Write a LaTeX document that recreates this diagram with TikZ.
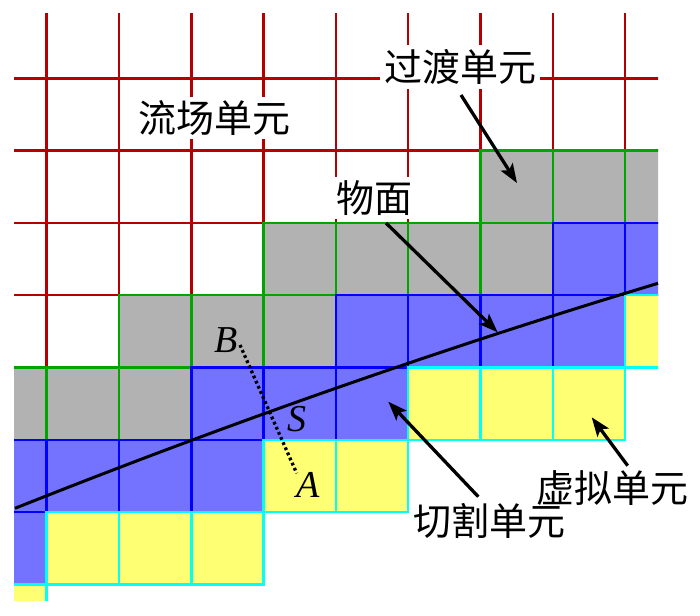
\documentclass[tikz,border=0pt]{standalone}
\usepackage{fontspec}
\setmainfont{Liberation Serif}
\newfontfamily\cjk{Noto Sans CJK SC}
\usetikzlibrary{arrows.meta}
\definecolor{gridred}{RGB}{180,0,0}
\definecolor{gridgreen}{RGB}{0,165,0}
\definecolor{gridblue}{RGB}{0,0,255}
\definecolor{gridcyan}{RGB}{0,255,255}
\definecolor{fillgray}{RGB}{178,178,178}
\definecolor{fillblue}{RGB}{115,115,255}
\definecolor{fillyellow}{RGB}{255,255,115}
\tikzset{
  redline/.style={draw=gridred, line width=2.5pt},
  graycell/.style={fill=fillgray, draw=gridgreen, line width=2.5pt},
  bluecell/.style={fill=fillblue, draw=gridblue, line width=2.5pt},
  yellowcell/.style={fill=fillyellow, draw=gridcyan, line width=2.5pt},
  lab/.style={font=\cjk\fontsize{38}{40}\selectfont, fill=white, inner sep=4pt},
  letter/.style={font=\fontsize{38}{40}\selectfont\itshape, inner sep=0pt},
  surf/.style={draw=black, line width=3pt},
  dotline/.style={draw=black, line width=3.3pt, dash pattern=on 2.8pt off 2.8pt},
  arr/.style={draw=black, line width=3.3pt, -{Stealth[length=19pt, width=14pt, inset=4pt]}}
}
\begin{document}
\begin{tikzpicture}[x=1pt, y=-1pt]
\useasboundingbox (0,0) rectangle (700,615);
\begin{scope}
  \clip (14,14) rectangle (658,600);
  \begin{scope}[shift={(46.7,78.3)}, x=72.3pt, y=-72.3pt]
    \begin{scope}
      \clip (-2,-2) -- (10,-2) -- (10,1) -- (6,1) -- (6,2) -- (3,2) -- (3,3) -- (1,3) -- (1,4) -- (-2,4) -- cycle;
      \foreach \i in {0,...,8} \draw[redline] (\i,-2) -- (\i,5);
      \foreach \j in {0,...,4} \draw[redline] (-2,\j) -- (10,\j);
    \end{scope}
    \foreach \c/\r in {6/1,7/1,8/1,3/2,4/2,5/2,6/2,1/3,2/3,3/3,-1/4,0/4,1/4}
      \draw[graycell] (\c,\r) rectangle ++(1,1);
    \foreach \c/\r in {7/2,8/2,4/3,5/3,6/3,7/3,2/4,3/4,4/4,-1/5,0/5,1/5,2/5,-1/6}
      \draw[bluecell] (\c,\r) rectangle ++(1,1);
    \foreach \c/\r in {8/3,5/4,6/4,7/4,3/5,4/5,0/6,1/6,2/6,-1/7}
      \draw[yellowcell] (\c,\r) rectangle ++(1,1);
  \end{scope}
\end{scope}

% body surface
\draw[surf] (15,508.3) .. controls (229.3,422.9) and (443.7,347.9) .. (658,283.3);

% labels
\node[lab] (flow) at (214,118) {流场单元};
\node[lab] (trans) at (460,67) {过渡单元};
\node[lab] (wall) at (374,198) {物面};
\node[lab, fill=none] (cut) at (489,521) {切割单元};
\node[lab, fill=none] (ghost) at (612,488) {虚拟单元};
\node[letter] (B) at (226,340) {B};
\node[letter] (S) at (297,419) {S};
\node[letter] (A) at (308,485) {A};

% dotted segment B-A
\coordinate (b1) at (240,345);
\coordinate (a1) at (296.7,473.3);
\draw[dotline] (b1) -- (a1);

% arrows
\coordinate (t1) at (461,95);   \coordinate (h1) at (517,183);
\coordinate (t2) at (386,223);  \coordinate (h2) at (497.7,332.3);
\coordinate (t3) at (478.3,496.7); \coordinate (h3) at (388.3,401.7);
\coordinate (t4) at (627.7,465.7); \coordinate (h4) at (591.7,417.3);
\draw[arr] (t1) -- (h1);
\draw[arr] (t2) -- (h2);
\draw[arr] (t3) -- (h3);
\draw[arr] (t4) -- (h4);
\end{tikzpicture}
\end{document}
